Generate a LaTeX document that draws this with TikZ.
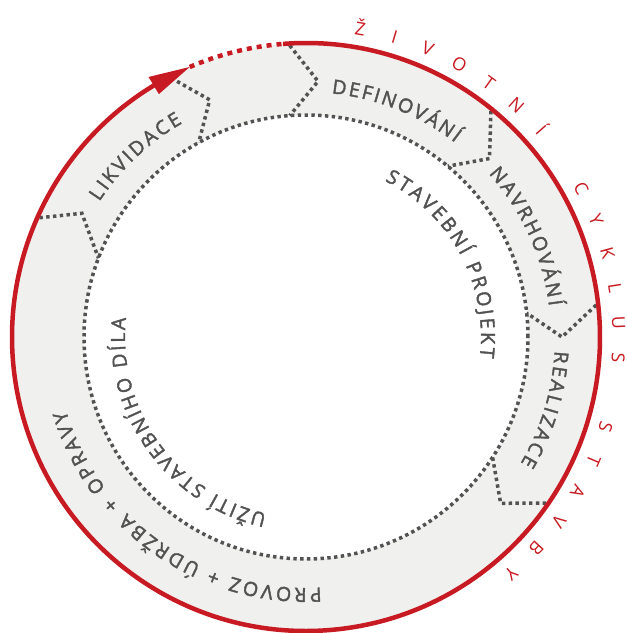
\documentclass[tikz,border=0pt]{standalone}
\usepackage{fontspec}
\setmainfont{Open Sans}
\newfontfamily\graytxt[FakeBold=2]{Open Sans}
\newfontfamily\redtxt{Open Sans}
\usetikzlibrary{decorations.text}
\definecolor{cred}{RGB}{200,26,34}
\definecolor{cgray}{RGB}{82,82,82}
\definecolor{cband}{RGB}{240,240,238}
\newcommand\gtxtfont{\graytxt\fontsize{19.5}{22}\selectfont}
\tikzset{
  dotline/.style={draw=cgray, line width=3.5pt, dash pattern=on 3.4pt off 3.4pt, line join=miter},
  redline/.style={draw=cred, line width=4.5pt},
  arctext/.style={decorate, decoration={text along path, text align={fit to path}, text color=cgray}},
  redletter/.style={text=cred, font=\redtxt\fontsize{18}{21}\selectfont, anchor=base, inner sep=0pt},
}
\begin{document}
\begin{tikzpicture}
\useasboundingbox (-306pt,-296pt) rectangle (321pt,337pt);
% band
\fill[cband, even odd rule] (0,0) circle (294pt) (0,0) circle (222pt);
\draw[dotline] (0,0) circle (222pt);
% chevron boundaries
\foreach \o/\t/\i [count=\k] in {155.9/151.1/159.2, 117.5/112.1/118.9, 93.2/87.3/94.2, 50.7/44.2/50.3, 6.3/0/6.2, -34.7/-40.5/-32.8}
{
  \coordinate (bo\k) at (\o:292pt);
  \coordinate (bt\k) at (\t:256pt);
  \coordinate (bi\k) at (\i:222pt);
  \draw[dotline] (bo\k) -- (bt\k) -- (bi\k);
}
% red circle
\draw[redline] (94.5:294pt) arc[start angle=94.5, end angle=-239.5, radius=294pt];
\draw[redline, dash pattern=on 5pt off 5pt] (113.3:294pt) arc[start angle=113.3, end angle=94.5, radius=294pt];
\coordinate (atip) at (113.3:294pt);
\coordinate (ab1) at (121.2:284pt);
\coordinate (ab2) at (121.2:304pt);
\fill[cred] (atip) -- (ab1) -- (ab2) -- cycle;
% red outer title
\foreach \k/\ch in {0/Ž,1/I,2/V,3/O,4/T,5/N,6/Í,8/C,9/Y,10/K,11/L,12/U,13/S,15/S,16/T,17/A,18/V,19/B,20/Y}
{
  \pgfmathsetmacro\ang{80-6.45*\k}
  \node[redletter, rotate=\ang-90] (z\k) at (\ang:306.5pt) {\ch};
}
% band texts
\path[arctext, decoration={text={|\gtxtfont|LIKVIDACE}}] (146.8:247pt) arc[start angle=146.8, end angle=120.0, radius=247pt];
\path[arctext, decoration={text={|\gtxtfont|DEFINOVÁNÍ}}] (84.0:245pt) arc[start angle=84.0, end angle=52.5, radius=245pt];
\path[arctext, decoration={text={|\gtxtfont|NAVRHOVÁNÍ}}] (41.8:245pt) arc[start angle=41.8, end angle=7.2, radius=245pt];
\path[arctext, decoration={text={|\gtxtfont|REALIZACE}}] (-3.2:249pt) arc[start angle=-3.2, end angle=-30.5, radius=249pt];
\path[arctext, decoration={text={|\gtxtfont|PROVOZ + ÚDRŽBA + OPRAVY}}] (-86.5:251pt) arc[start angle=-86.5, end angle=-163, radius=251pt];
% inner texts
\path[arctext, decoration={text={|\gtxtfont|STAVEBNÍ PROJEKT}}] (63.2:175pt) arc[start angle=63.2, end angle=-6.7, radius=175pt];
\path[arctext, decoration={text={|\gtxtfont|UŽITÍ STAVEBNÍHO DÍLA}}] (-102.5:181pt) arc[start angle=-102.5, end angle=-186, radius=181pt];
\end{tikzpicture}
\end{document}
